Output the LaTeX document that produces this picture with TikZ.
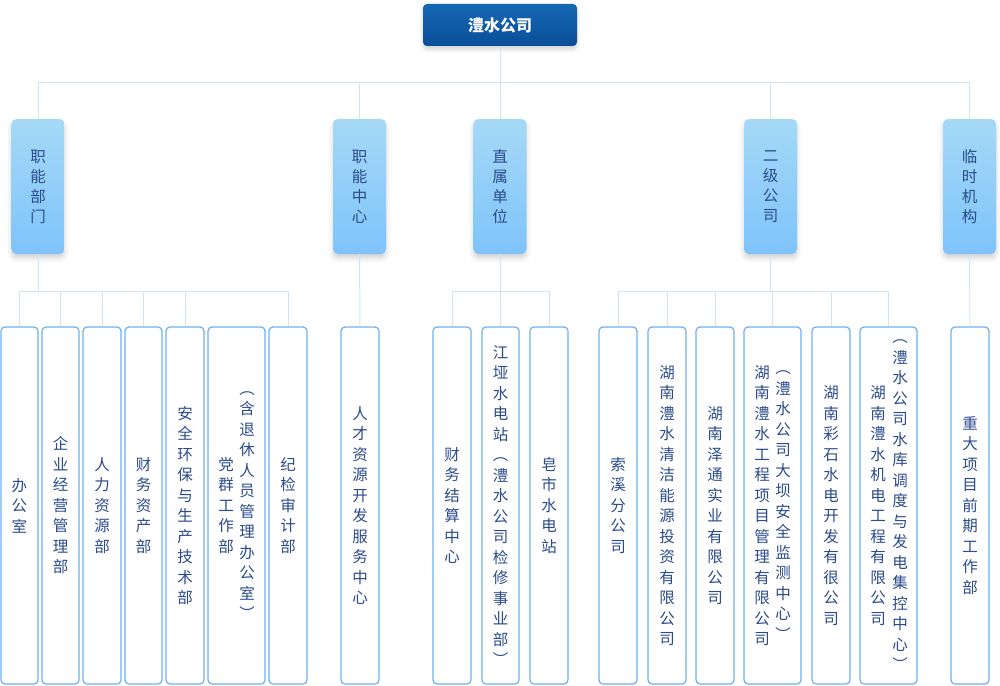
\documentclass[tikz,border=0pt]{standalone}
\usepackage{fontspec}
\newfontfamily\cjk{Noto Sans CJK SC}
\usetikzlibrary{shadows.blur}
\definecolor{lineC}{HTML}{D3E3F1}
\definecolor{topA}{HTML}{1668B4}
\definecolor{topB}{HTML}{0A4E98}
\definecolor{midA}{HTML}{A5D9F6}
\definecolor{midB}{HTML}{7EC3FB}
\definecolor{leafC}{HTML}{6DB0F0}
\definecolor{txtC}{HTML}{2B4B8C}
\begin{document}
\begin{tikzpicture}[x=1pt,y=-1pt,
  conn/.style={draw=lineC,line width=1pt},
  topbox/.style={rounded corners=4pt,top color=topA,bottom color=topB,minimum width=154pt,minimum height=42pt,inner sep=0pt,text=white,font=\cjk\bfseries\fontsize{16}{20}\selectfont,blur shadow={shadow xshift=0pt,shadow yshift=-3pt,shadow opacity=18,shadow blur radius=4pt}},
  midbox/.style={rounded corners=5pt,top color=midA,bottom color=midB,minimum width=53pt,minimum height=135pt,inner sep=0pt,align=center,text=txtC,font=\cjk\fontsize{15.5}{20}\selectfont,blur shadow={shadow xshift=0pt,shadow yshift=-4pt,shadow opacity=18,shadow blur radius=5pt}},
  leafbox/.style={draw=leafC,line width=1.2pt,rounded corners=4pt,fill=white,minimum width=#1,minimum height=357pt,inner sep=0pt,align=center,text=txtC,font=\cjk\fontsize{15.5}{20.5}\selectfont},
  leafbox/.default=37pt,
  colt/.style={inner sep=0pt,align=center,text=txtC,font=\cjk\fontsize{15.5}{20.5}\selectfont}]
\useasboundingbox (0,0) rectangle (1000,685);

% top
\node[topbox] (top) at (500,25) {澧水公司};

% second level
\node[midbox] (L1) at (38,186.5) {职\\能\\部\\门};
\node[midbox] (L2) at (359.5,186.5) {职\\能\\中\\心};
\node[midbox] (L3) at (500,186.5) {直\\属\\单\\位};
\node[midbox] (L4) at (770.5,186.5) {二\\级\\公\\司};
\node[midbox] (L5) at (969.5,186.5) {临\\时\\机\\构};

% leaves
\node[leafbox] (c1) at (19.5,505.5) {办\\公\\室};
\node[leafbox] (c2) at (60.5,505.5) {企\\业\\经\\营\\管\\理\\部};
\node[leafbox=38pt] (c3) at (102,505.5) {人\\力\\资\\源\\部};
\node[leafbox] (c4) at (143.5,505.5) {财\\务\\资\\产\\部};
\node[leafbox=38pt] (c5) at (185,505.5) {安\\全\\环\\保\\与\\生\\产\\技\\术\\部};
\node[leafbox=57pt] (c6) at (236.5,505.5) {};
\node[colt] at (226,505.5) {党\\群\\工\\作\\部};
\node[colt] at (247,505.5) {︵\\含\\退\\休\\人\\员\\管\\理\\办\\公\\室\\︶};
\node[leafbox=38pt] (c7) at (288,505.5) {纪\\检\\审\\计\\部};

\node[leafbox=38pt] (c8) at (360,505.5) {人\\才\\资\\源\\开\\发\\服\\务\\中\\心};

\node[leafbox=38pt] (c9) at (452,505.5) {财\\务\\结\\算\\中\\心};
\node[leafbox] (c10) at (500.5,505.5) {江\\垭\\水\\电\\站\\︵\\澧\\水\\公\\司\\检\\修\\事\\业\\部\\︶};
\node[leafbox=38pt] (c11) at (549,505.5) {皂\\市\\水\\电\\站};

\node[leafbox=38pt] (c12) at (618,505.5) {索\\溪\\分\\公\\司};
\node[leafbox=38pt] (c13) at (667,505.5) {湖\\南\\澧\\水\\清\\洁\\能\\源\\投\\资\\有\\限\\公\\司};
\node[leafbox=38pt] (c14) at (715,505.5) {湖\\南\\泽\\通\\实\\业\\有\\限\\公\\司};
\node[leafbox=57pt] (c15) at (772.5,505.5) {};
\node[colt] at (762,505.5) {湖\\南\\澧\\水\\工\\程\\项\\目\\管\\理\\有\\限\\公\\司};
\node[colt] at (783,505.5) {︵\\澧\\水\\公\\司\\大\\坝\\安\\全\\监\\测\\中\\心\\︶};
\node[leafbox=38pt] (c16) at (831,505.5) {湖\\南\\彩\\石\\水\\电\\开\\发\\有\\很\\公\\司};
\node[leafbox=57pt] (c17) at (888.5,505.5) {};
\node[colt] at (878,505.5) {湖\\南\\澧\\水\\机\\电\\工\\程\\有\\限\\公\\司};
\node[colt] at (900,505.5) {︵\\澧\\水\\公\\司\\水\\库\\调\\度\\与\\发\\电\\集\\控\\中\\心\\︶};

\node[leafbox=38pt] (c18) at (970,505.5) {重\\大\\项\\目\\前\\期\\工\\作\\部};

% connectors
\begin{scope}[on background layer/.try]
\coordinate (b1) at (500,82);
\draw[conn] (top.south) -- (b1);
\foreach \n in {L1,L2,L3,L4,L5} {\draw[conn] (b1) -| (\n.north);}

\coordinate (yb) at (0,291);
\coordinate (j1) at (L1.south |- yb);
\draw[conn] (L1.south) -- (j1);
\foreach \n in {c1,c2,c3,c4,c5,c7} {\draw[conn] (j1) -| (\n.north);}

\draw[conn] (L2.south) -- (c8.north);

\coordinate (j3) at (L3.south |- yb);
\draw[conn] (L3.south) -- (j3);
\foreach \n in {c9,c10,c11} {\draw[conn] (j3) -| (\n.north);}

\coordinate (j4) at (L4.south |- yb);
\draw[conn] (L4.south) -- (j4);
\foreach \n in {c12,c13,c14,c15,c16,c17} {\draw[conn] (j4) -| (\n.north);}

\draw[conn] (L5.south) -- (c18.north);
\end{scope}
\end{tikzpicture}
\end{document}
